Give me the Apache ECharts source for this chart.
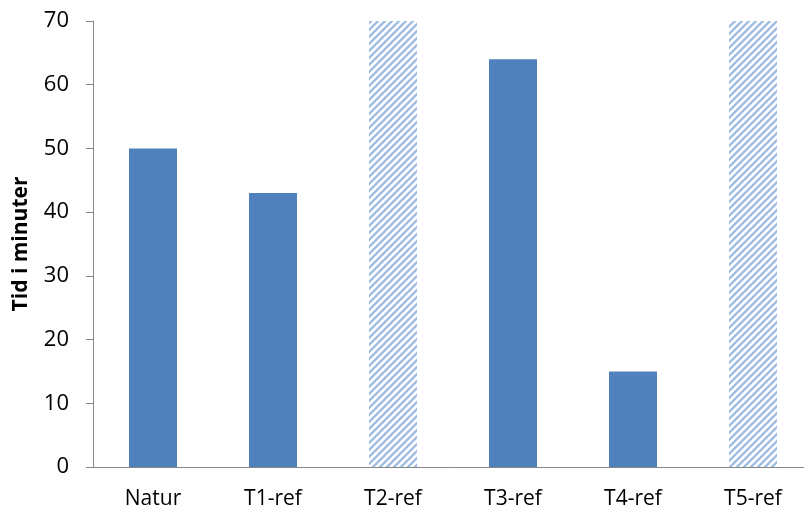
<!DOCTYPE html>
<html>
<head>
<meta charset="utf-8">
<script src="https://cdn.jsdelivr.net/npm/echarts@6/dist/echarts.min.js"></script>
<style>
  html, body { margin: 0; padding: 0; background: #fff; }
  #chart { width: 804px; height: 513px; }
</style>
</head>
<body>
<div id="chart"></div>
<script>
// Time per course, minutes
const categories = ['Natur', 'T1-ref', 'T2-ref', 'T3-ref', 'T4-ref', 'T5-ref'];
const minutes = [50, 43, 70, 64, 15, 70];
// Courses whose bars are drawn with a hatched fill
const hatched = [false, false, true, false, false, true];
const yTicks = { min: 0, max: 70, interval: 10 };

// Diagonal ("/") hatch tile
function hatchPattern() {
  const s = 7;
  const c = document.createElement('canvas');
  c.width = s; c.height = s;
  const g = c.getContext('2d');
  g.fillStyle = '#ffffff';
  g.fillRect(0, 0, s, s);
  g.strokeStyle = '#9fbce3';
  g.lineWidth = 2.3;
  g.beginPath();
  g.moveTo(-1, s + 1); g.lineTo(s + 1, -1);
  g.moveTo(-2, 2); g.lineTo(2, -2);
  g.moveTo(s - 2, s + 2); g.lineTo(s + 2, s - 2);
  g.stroke();
  return c;
}
const pattern = { image: hatchPattern(), repeat: 'repeat' };

const chart = echarts.init(document.getElementById('chart'));
const font = 'Open Sans, Liberation Sans, sans-serif';
chart.setOption({
  animation: false,
  grid: { left: 93, top: 21, width: 720, height: 446, outerBoundsMode: 'none', containLabel: false },
  xAxis: {
    type: 'category',
    data: categories,
    axisLine: { lineStyle: { color: '#868686', width: 1 } },
    axisTick: { alignWithLabel: false, length: 7, lineStyle: { color: '#868686' } },
    axisLabel: { color: '#000', fontSize: 21, fontFamily: font, margin: 22 }
  },
  yAxis: {
    type: 'value',
    min: yTicks.min, max: yTicks.max, interval: yTicks.interval,
    name: 'Tid i minuter',
    nameLocation: 'middle',
    nameGap: 61,
    nameTextStyle: { color: '#000', fontSize: 21, fontWeight: 'bold', fontFamily: font },
    axisLine: { show: true, lineStyle: { color: '#868686', width: 1 } },
    axisTick: { show: true, length: 7, lineStyle: { color: '#868686' } },
    axisLabel: { color: '#000', fontSize: 22, fontFamily: font, margin: 24 },
    splitLine: { show: false }
  },
  series: [{
    type: 'bar',
    barWidth: 48,
    data: minutes.map((v, i) => ({
      value: v,
      itemStyle: { color: hatched[i] ? pattern : '#4f81bd' }
    }))
  }]
});
</script>
</body>
</html>
